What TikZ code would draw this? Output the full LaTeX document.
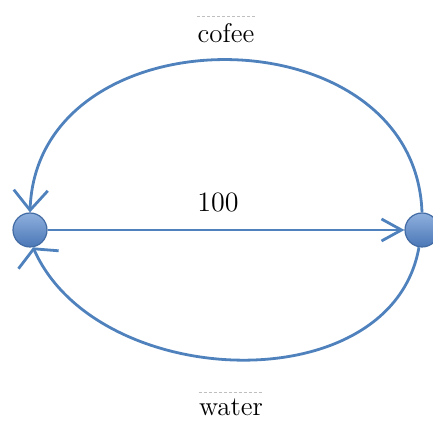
\documentclass[tikz,border=0pt]{standalone}
\usepackage{xcolor}
\usepackage{tikz}
\usetikzlibrary{arrows.meta,positioning,calc}
\definecolor{edgeblue}{HTML}{4F81BD}
\definecolor{ballhi}{HTML}{8FB0DE}
\definecolor{balllo}{HTML}{4A77B6}
\definecolor{rulegray}{HTML}{BFBFBF}

\begin{document}
\begin{tikzpicture}[x=0.5pt,y=-0.5pt,
 vertex/.style={circle,draw=balllo!90!black,line width=0.6pt,top color=ballhi,
 bottom color=balllo,minimum size=17pt,inner sep=0pt},
 arr/.style={-{Straight Barb[length=10pt,width=17pt,line width=1.4pt]},draw=edgeblue,line width=1.4pt},
 warr/.style={-{Straight Barb[length=6pt,width=22pt,line width=1.4pt]},draw=edgeblue,line width=1.4pt},
 sarr/.style={-{Straight Barb[length=10pt,width=11pt,line width=1.4pt]},draw=edgeblue,line width=1.4pt},
 tag/.style={font=\fontsize{13.5}{16}\selectfont,inner xsep=0pt,inner ysep=3pt},
 rule/.style={draw=rulegray,dashed,dash pattern=on 1.5pt off 1pt,line width=0.5pt}]
\useasboundingbox (0,0) rectangle (433,421);
\node[vertex] (left) at (30,230) {};
\node[vertex] (right) at (422,230) {};
\node[tag] (cofee) at (226,33) {cofee};
\node[tag] (water) at (231,407) {water};
\node[tag,font=\fontsize{14}{16}\selectfont] (weight) at (218,202) {100};
\draw[rule] (cofee.north west)--(cofee.north east);
\draw[rule] (water.north west)--(water.north east);
\draw[arr] (right.north) to[out=92,in=88,looseness=1.33] (left.north);
\draw[warr] (right.-100) to[out=-100,in=-66,looseness=1.05] (left.-80);
\draw[sarr] (left.east)--(right.west);
\end{tikzpicture}
\end{document}
